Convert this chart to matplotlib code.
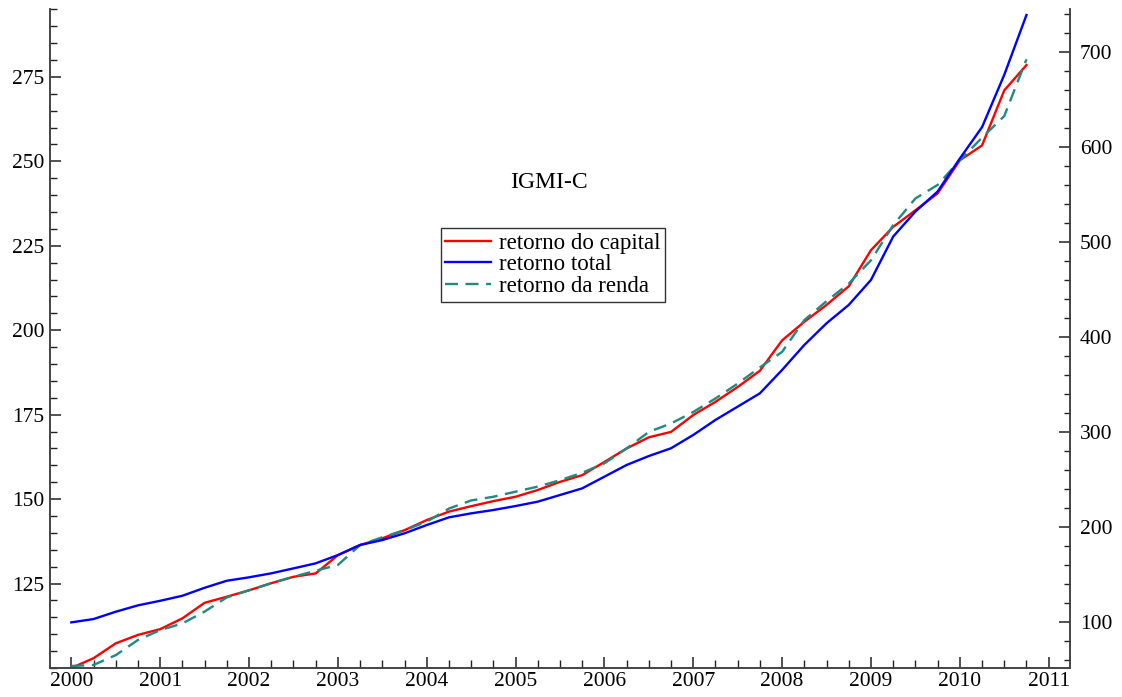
import numpy as np
import matplotlib
matplotlib.use("Agg")
import matplotlib.pyplot as plt
from matplotlib.ticker import MultipleLocator, FixedLocator

# Quarterly dates 2000Q1 .. 2010Q4
quarters = np.arange(44)
dates = 2000 + quarters / 4.0

retorno_capital = [100.0, 102.9, 107.3, 109.8, 111.5, 114.7, 119.3, 121.1, 123.0, 125.1,
                   127.0, 128.0, 133.4, 136.4, 138.4, 140.8, 143.8, 146.3, 147.9, 149.4,
                   150.7, 152.7, 155.1, 157.1, 161.0, 165.0, 168.3, 169.9, 174.9, 178.8,
                   183.2, 188.0, 197.0, 202.5, 207.5, 213.0, 223.7, 230.6, 235.5, 240.5,
                   250.3, 254.7, 271.0, 278.5]

retorno_total = [100.0, 103.5, 111.2, 117.9, 122.7, 128.0, 136.4, 143.8, 147.4, 151.6,
                 156.8, 162.1, 170.8, 181.4, 186.6, 193.7, 202.4, 210.5, 214.7, 218.2,
                 222.4, 227.0, 234.0, 241.0, 253.3, 265.6, 275.0, 283.2, 297.2, 313.0,
                 327.0, 341.0, 365.6, 391.9, 414.7, 434.0, 460.3, 505.9, 532.2, 553.3,
                 588.0, 621.0, 676.0, 739.0]

retorno_renda = [100.6, 100.9, 103.8, 108.3, 111.2, 113.2, 116.7, 120.9, 123.0, 125.1,
                 127.0, 128.8, 130.5, 136.4, 138.7, 140.8, 143.3, 147.2, 149.6, 150.7,
                 152.2, 153.7, 155.6, 157.8, 160.6, 165.0, 169.9, 172.4, 175.8, 179.8,
                 184.2, 189.0, 193.6, 203.0, 208.6, 213.8, 220.7, 231.1, 239.0, 243.0,
                 250.3, 257.0, 263.4, 280.2]

year_ticks = list(range(2000, 2012))
left_ticks = [125, 150, 175, 200, 225, 250, 275]
right_ticks = [100, 200, 300, 400, 500, 600, 700]
title_text = "IGMI-C"
labels = ["retorno do capital", "retorno total", "retorno da renda"]

plt.rcParams['font.family'] = ['Liberation Serif', 'DejaVu Serif']

fig = plt.figure(figsize=(11.22, 6.97), dpi=100)
ax = fig.add_axes([50/1122, 29/697, 1020/1122, 658.7/697])
ax2 = ax.twinx()

spine_color = '#444444'
teal = '#1f8a80'

l1, = ax.plot(dates, retorno_capital, color='#ff0000', lw=1.7, label=labels[0])
l3, = ax.plot(dates, retorno_renda, color=teal, lw=1.7, dashes=(5.5, 3.2), label=labels[2])
l2, = ax2.plot(dates, retorno_total, color='#0000ff', lw=1.7, label=labels[1])

ax.set_xlim(1999.76, 2011.24)
ax.set_ylim(100, 295)
ax2.set_ylim(52, 745)

ax.xaxis.set_major_locator(FixedLocator(year_ticks))
ax.xaxis.set_minor_locator(MultipleLocator(0.25))
ax.yaxis.set_major_locator(FixedLocator(left_ticks))
ax.yaxis.set_minor_locator(MultipleLocator(5))
ax2.yaxis.set_major_locator(FixedLocator(right_ticks))
ax2.yaxis.set_minor_locator(MultipleLocator(20))

for a in (ax, ax2):
    a.spines['top'].set_visible(False)
    for s in ('left', 'right', 'bottom'):
        a.spines[s].set_color(spine_color)
        a.spines[s].set_linewidth(1.2)
    a.patch.set_visible(False)

ax.tick_params(axis='both', which='major', direction='in', length=8, width=1.1,
               color='#222222', labelsize=15.5)
ax.tick_params(axis='both', which='minor', direction='in', length=5, width=1.0,
               color='#222222')
ax.tick_params(axis='x', which='major', pad=3)
ax.tick_params(axis='x', which='minor', length=6)
ax.tick_params(axis='y', which='major', pad=4)
ax2.tick_params(axis='y', which='major', direction='in', length=8, width=1.1,
                color='#222222', labelsize=15.5, pad=7)
ax2.tick_params(axis='y', which='minor', direction='in', length=4, width=1.0,
                color='#222222')

fig.text(549/1122, 1 - 183/697, title_text, ha='center', va='center', fontsize=17)

leg = ax2.legend([l1, l2, l3], labels, loc='upper left',
                 bbox_to_anchor=(440.7/1122, 1 - 228.3/697), bbox_transform=fig.transFigure,
                 fontsize=16.5, frameon=True, fancybox=False, framealpha=1,
                 edgecolor='#333333', handlelength=2.0, handletextpad=0.35,
                 labelspacing=0.02, borderpad=0.2, borderaxespad=0)
leg.get_frame().set_linewidth(1.0)

fig.savefig('out.png', dpi=100)
